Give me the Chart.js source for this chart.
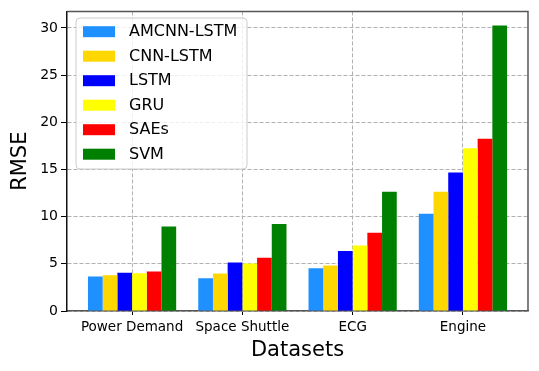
<!DOCTYPE html>
<html>
<head>
<meta charset="utf-8">
<script src="https://cdn.jsdelivr.net/npm/chart.js@4/dist/chart.umd.min.js"></script>
<style>
html,body{margin:0;padding:0;background:#fff;}
#wrap{width:539px;height:371px;}
</style>
</head>
<body>
<div id="wrap"><canvas id="c" width="539" height="371"></canvas></div>
<script>
const categories = ["Power Demand", "Space Shuttle", "ECG", "Engine"];
const seriesNames = ["AMCNN-LSTM", "CNN-LSTM", "LSTM", "GRU", "SAEs", "SVM"];
const amcnnLstm = [3.66, 3.48, 4.54, 10.3];
const cnnLstm   = [3.8, 3.98, 4.82, 12.63];
const lstm      = [4.05, 5.14, 6.37, 14.67];
const gru       = [4.0, 5.03, 6.93, 17.24];
const saes      = [4.19, 5.63, 8.3, 18.25];
const svm       = [8.95, 9.22, 12.63, 30.25];
const yTicks = [0, 5, 10, 15, 20, 25, 30];

const seriesValues = [amcnnLstm, cnnLstm, lstm, gru, saes, svm];
const colors = ["#1E90FF", "#FFD700", "#0000FF", "#FFFF00", "#FF0000", "#008000"];
const FONT = "'DejaVu Sans', sans-serif";

const datasets = seriesNames.map((name, i) => ({
  label: name,
  data: seriesValues[i].map((v, j) => ({x: j, y: v})),
  backgroundColor: colors[i],
  borderWidth: 0,
  categoryPercentage: 0.8,
  barPercentage: 1.0
}));

const framePlugin = {
  id: 'frame',
  afterDraw(chart) {
    const {ctx, chartArea: a} = chart;
    ctx.save();
    ctx.strokeStyle = '#555';
    ctx.lineWidth = 1.5;
    ctx.beginPath();
    ctx.moveTo(a.left, a.top);
    ctx.lineTo(a.right, a.top);
    ctx.lineTo(a.right, a.bottom);
    ctx.stroke();
    // legend
    const lx = 76, ly = 18, lw = 171, lh = 151, r = 4;
    ctx.beginPath();
    ctx.moveTo(lx + r, ly);
    ctx.lineTo(lx + lw - r, ly);
    ctx.arcTo(lx + lw, ly, lx + lw, ly + r, r);
    ctx.lineTo(lx + lw, ly + lh - r);
    ctx.arcTo(lx + lw, ly + lh, lx + lw - r, ly + lh, r);
    ctx.lineTo(lx + r, ly + lh);
    ctx.arcTo(lx, ly + lh, lx, ly + lh - r, r);
    ctx.lineTo(lx, ly + r);
    ctx.arcTo(lx, ly, lx + r, ly, r);
    ctx.closePath();
    ctx.fillStyle = 'rgba(255,255,255,0.8)';
    ctx.fill();
    ctx.strokeStyle = '#cccccc';
    ctx.lineWidth = 1;
    ctx.stroke();
    ctx.font = "16px " + FONT;
    ctx.textBaseline = 'middle';
    ctx.textAlign = 'left';
    chart.data.datasets.forEach((ds, i) => {
      const cy = 31.7 + i * 24.5;
      ctx.fillStyle = ds.backgroundColor;
      ctx.fillRect(83, cy - 5.5, 32, 11);
      ctx.fillStyle = '#000';
      ctx.fillText(ds.label, 129, cy + 0.5);
    });
    ctx.restore();
  }
};

new Chart(document.getElementById('c'), {
  type: 'bar',
  data: { datasets },
  options: {
    responsive: false,
    animation: false,
    events: [],
    layout: { padding: { top: 10, right: 11, left: 0, bottom: 0 } },
    plugins: { legend: { display: false }, tooltip: { enabled: false } },
    scales: {
      x: {
        type: 'linear',
        min: -0.59,
        max: 3.59,
        offset: false,
        z: 1,
        afterFit(s) { s.height = 60; },
        afterBuildTicks(s) { s.ticks = categories.map((c, i) => ({ value: i })); },
        ticks: {
          callback: (v) => categories[v],
          font: { family: FONT, size: 13.5 },
          color: '#000',
          padding: 4,
          maxRotation: 0,
          autoSkip: false
        },
        grid: {
          offset: false,
          color: '#b0b0b0',
          lineWidth: 1,
          tickColor: '#000',
          tickLength: 4,
          tickWidth: 1,
          tickBorderDash: []
        },
        border: { display: true, color: '#555', width: 1.5, dash: [4, 2] },
        title: {
          display: true,
          text: 'Datasets',
          font: { family: FONT, size: 21 },
          color: '#000',
          padding: { top: 0, bottom: 8 }
        }
      },
      y: {
        min: 0,
        max: 31.75,
        z: 1,
        afterFit(s) { s.width = 67; },
        afterBuildTicks(s) { s.ticks = yTicks.map(v => ({ value: v })); },
        ticks: {
          stepSize: 5,
          includeBounds: false,
          font: { family: FONT, size: 14 },
          color: '#000',
          padding: 3
        },
        grid: {
          color: '#b0b0b0',
          lineWidth: 1,
          tickColor: '#000',
          tickLength: 6,
          tickWidth: 1,
          tickBorderDash: []
        },
        border: { display: true, color: '#111', width: 1.5, dash: [4, 2] },
        title: {
          display: true,
          text: 'RMSE',
          font: { family: FONT, size: 21 },
          color: '#000',
          padding: { top: 8, bottom: 0 }
        }
      }
    }
  },
  plugins: [framePlugin]
});
</script>
</body>
</html>
